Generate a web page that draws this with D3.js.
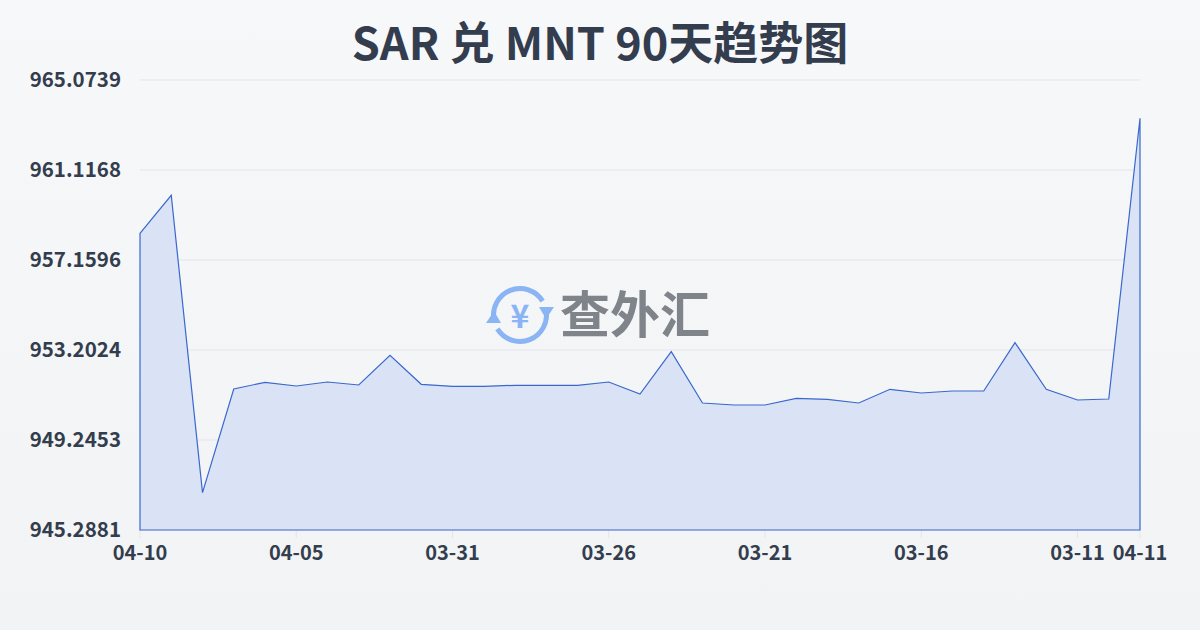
<!DOCTYPE html>
<html>
<head>
<meta charset="utf-8">
<script src="https://cdn.jsdelivr.net/npm/d3@7/dist/d3.min.js"></script>
<style>
  html, body { margin: 0; padding: 0; background: #f4f5f7; }
  svg { display: block; }
</style>
</head>
<body>
<svg id="chart" width="1200" height="630"></svg>
<script>
const title = "SAR 兑 MNT 90天趋势图";
const dates = ["04-10","04-09","04-08","04-07","04-06","04-05","04-04","04-03","04-02","04-01",
               "03-31","03-30","03-29","03-28","03-27","03-26","03-25","03-24","03-23","03-22",
               "03-21","03-20","03-19","03-18","03-17","03-16","03-15","03-14","03-13","03-12",
               "03-11","03-10","04-11"];
const values = [958.333,960.004,946.929,951.488,951.781,951.620,951.796,951.664,952.969,951.694,
                951.606,951.606,951.650,951.650,951.650,951.796,951.268,953.128,950.872,950.784,
                950.784,951.079,951.035,950.872,951.475,951.312,951.400,951.400,953.524,951.475,
                951.004,951.048,963.390];
const yTicks = [945.2881, 949.2453, 953.2024, 957.1596, 961.1168, 965.0739];
const xTickIdx = [0,5,10,15,20,25,30,32];

const svg = d3.select("#chart");
const W = 1200, H = 630;
const m = {left: 140, right: 60, top: 80, bottom: 100};
const font = "'Noto Sans CJK SC', 'Noto Sans', sans-serif";

const defs = svg.append("defs");
const bg = defs.append("linearGradient").attr("id","bg").attr("x1",0).attr("y1",0).attr("x2",0).attr("y2",1);
bg.append("stop").attr("offset","0%").attr("stop-color","#f7f8fa");
bg.append("stop").attr("offset","100%").attr("stop-color","#f2f3f5");
svg.append("rect").attr("width",W).attr("height",H).attr("fill","url(#bg)");

const x = d3.scalePoint().domain(d3.range(dates.length)).range([m.left, W - m.right]);
const y = d3.scaleLinear().domain([yTicks[0], yTicks[yTicks.length-1]]).range([H - m.bottom, m.top]);

// grid
svg.append("g").selectAll("line").data(yTicks).join("line")
  .attr("x1", m.left).attr("x2", W - m.right)
  .attr("y1", d => y(d)).attr("y2", d => y(d))
  .attr("stroke", "#e3e5e9").attr("stroke-width", 1);

// y labels
svg.append("g").selectAll("text").data(yTicks).join("text")
  .attr("x", 121).attr("y", d => y(d))
  .attr("dy", "0.35em")
  .attr("text-anchor", "end")
  .attr("font-family", font).attr("font-weight", 700).attr("font-size", 20.5)
  .attr("fill", "#333d4d")
  .text(d => d.toFixed(4));

// x ticks
svg.append("g").selectAll("line").data(xTickIdx).join("line")
  .attr("x1", d => x(d)).attr("x2", d => x(d))
  .attr("y1", H - m.bottom).attr("y2", H - m.bottom + 8)
  .attr("stroke", "#e3e5e9");
svg.append("g").selectAll("text").data(xTickIdx).join("text")
  .attr("x", d => x(d)).attr("y", 553)
  .attr("dy", "0.35em")
  .attr("text-anchor", "middle")
  .attr("font-family", font).attr("font-weight", 700).attr("font-size", 20)
  .attr("fill", "#333d4d")
  .text(d => dates[d]);

// watermark
const wc = "#8ab4f4";
const wm = svg.append("g").attr("transform", "translate(520,315)");
wm.append("path")
  .attr("d", d3.arc()({innerRadius: 24, outerRadius: 29, startAngle: -Math.PI/2 - 0.2, endAngle: Math.PI/2 - 0.55}))
  .attr("fill", wc);
wm.append("path")
  .attr("d", d3.arc()({innerRadius: 24, outerRadius: 29, startAngle: Math.PI/2 - 0.2, endAngle: 1.5*Math.PI - 0.55}))
  .attr("fill", wc);
wm.append("path").attr("d","M19,-8 L34,-8 L26,4 Z").attr("fill",wc);
wm.append("path").attr("d","M-19,8 L-34,8 L-26,-4 Z").attr("fill",wc);
wm.append("text").attr("x",0).attr("y",1).attr("dy","0.36em").attr("text-anchor","middle")
  .attr("font-family", font).attr("font-weight",700).attr("font-size",32).attr("fill",wc).text("¥");
svg.append("text").attr("x", 560).attr("y", 315).attr("dy","0.36em")
  .attr("font-family", font).attr("font-weight", 700).attr("font-size", 50)
  .attr("fill", "#7f838a").text("查外汇");

// area
const area = d3.area().x((d,i) => x(i)).y0(y(yTicks[0])).y1(d => y(d));
svg.append("path").datum(values)
  .attr("d", area)
  .attr("fill", "#d7e1f5").attr("fill-opacity", 0.9)
  .attr("stroke", "#3a68cc").attr("stroke-width", 1.2).attr("stroke-linejoin","miter");

// title
svg.append("text").attr("x", W/2).attr("y", 44).attr("dy","0.36em")
  .attr("text-anchor", "middle")
  .attr("font-family", font).attr("font-weight", 700).attr("font-size", 45)
  .attr("fill", "#333d4d").text(title);
</script>
</body>
</html>
